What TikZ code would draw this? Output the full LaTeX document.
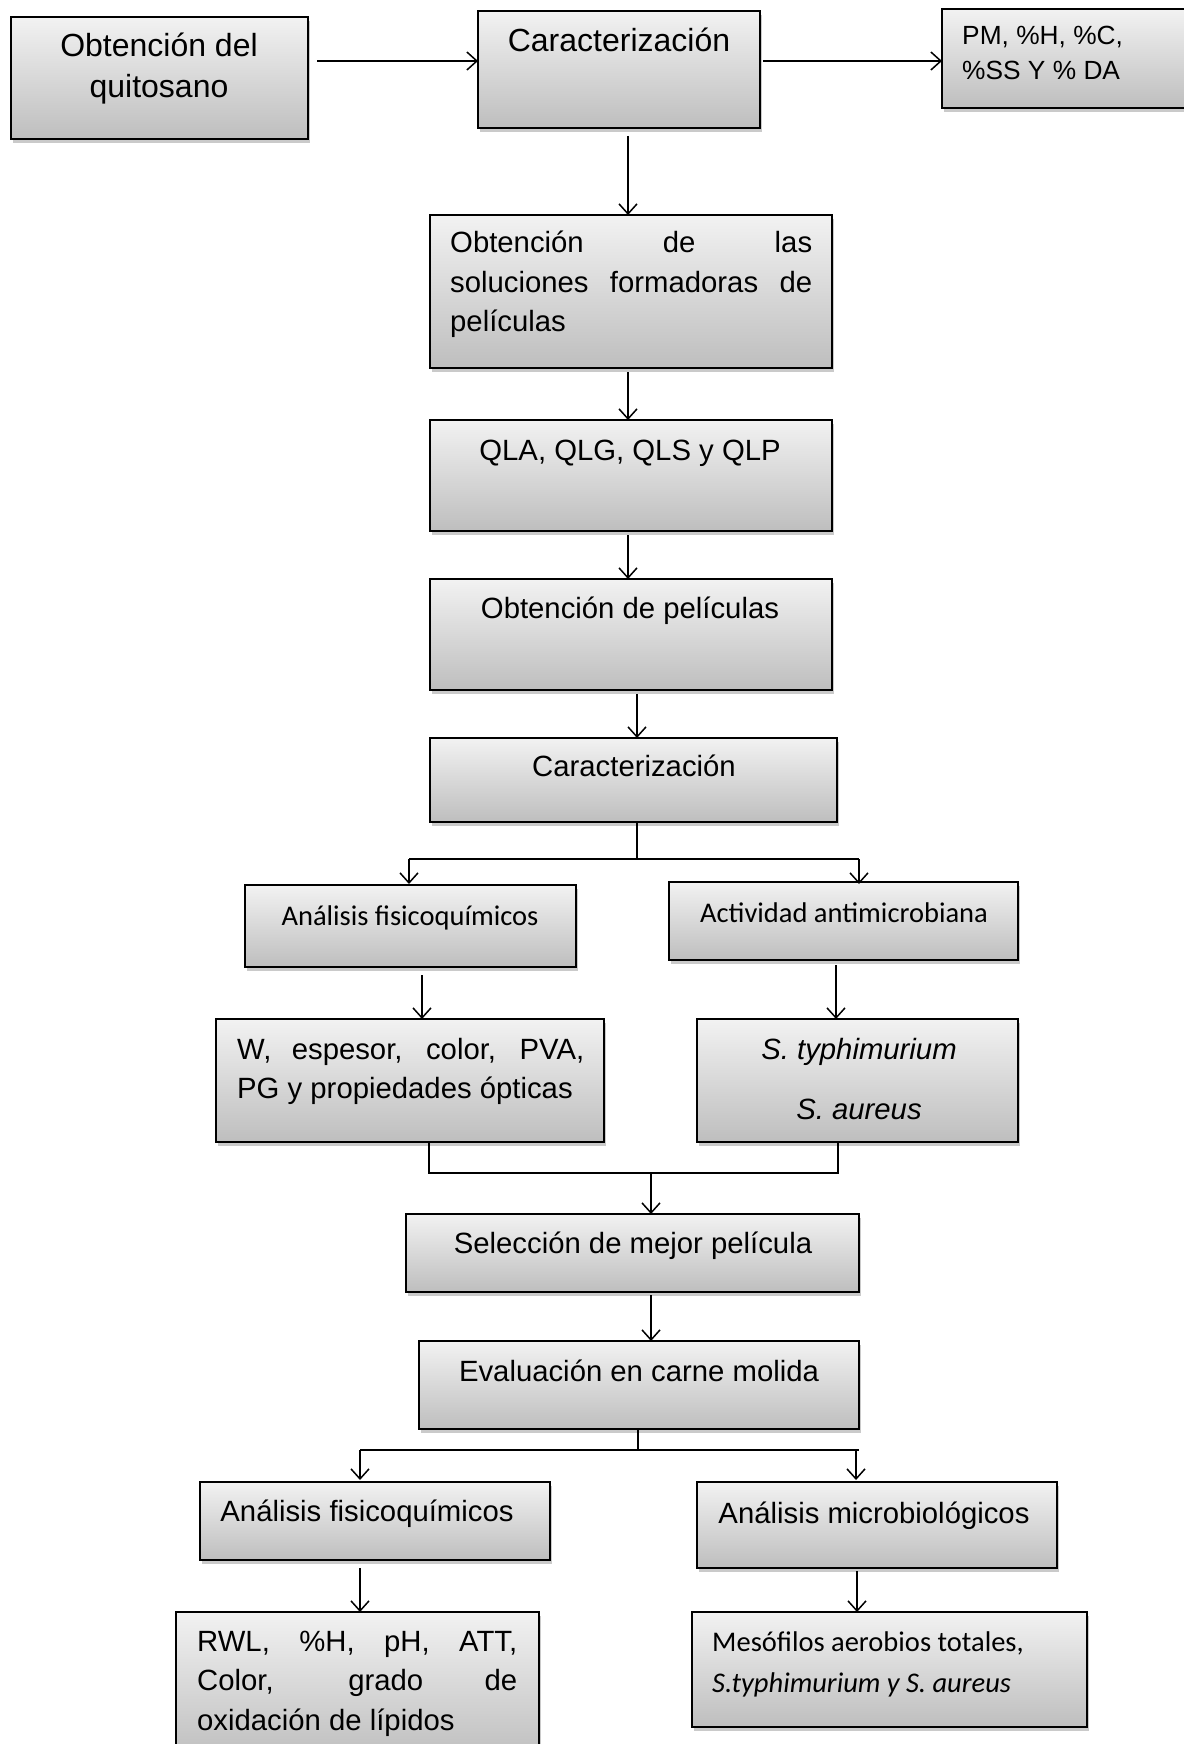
\documentclass[tikz,border=0pt]{standalone}
\usepackage{fontspec}
\setmainfont{Liberation Sans}
\newfontfamily\calibri{Carlito}
\usetikzlibrary{arrows.meta,shadows}
\definecolor{topgray}{HTML}{F2F2F2}
\definecolor{botgray}{HTML}{BEBEBE}
\tikzset{
  box/.style={draw=black, line width=2pt, top color=topgray, bottom color=botgray,
    anchor=north west, inner sep=0pt, outer sep=0pt,
    drop shadow={shadow xshift=2pt, shadow yshift=-4pt, opacity=0.35, fill=black!60}},
  txt/.style={inner sep=0pt, anchor=base},
  ftop/.style={font=\fontsize{32}{41}\selectfont},
  fmid/.style={font=\fontsize{29.3}{39}\selectfont},
  fsmall/.style={font=\fontsize{26.3}{34.5}\selectfont},
  fcal/.style={font=\calibri\fontsize{28.5}{41}\selectfont},
  conn/.style={line width=1.5pt},
  arr/.style={conn, -{Straight Barb[length=10pt,width=18pt,line width=1.5pt]}},
}
\newcommand{\bx}[6]{\node[box, minimum width=#4-#2, minimum height=#5-#3] (#1) at (#2,#3) {};}
\begin{document}
\begin{tikzpicture}[x=1pt,y=-1pt]
\useasboundingbox (0,0) rectangle (1183,1744);
% boxes
\bx{b1}{11}{17}{308}{139}{}
\bx{b2}{478}{11}{760}{128}{}
\bx{b3}{942}{9}{1195}{108}{}
\bx{b4}{430}{215}{832}{368}{}
\bx{b5}{430}{420}{832}{531}{}
\bx{b6}{430}{579}{832}{690}{}
\bx{b7}{430}{738}{837}{822}{}
\bx{b8}{245}{885}{576}{967}{}
\bx{b9}{669}{882}{1018}{960}{}
\bx{b10}{216}{1019}{604}{1142}{}
\bx{b11}{697}{1019}{1018}{1142}{}
\bx{b12}{406}{1214}{859}{1292}{}
\bx{b13}{419}{1341}{859}{1429}{}
\bx{b14}{200}{1482}{550}{1560}{}
\bx{b15}{697}{1482}{1057}{1568}{}
\bx{b16}{176}{1612}{539}{1760}{}
\bx{b17}{692}{1612}{1087}{1727}{}
% texts
\node[txt, ftop] (t1a) at (159,57) {Obtención del};
\node[txt, ftop] (t1b) at (159,98) {quitosano};
\node[txt, ftop] (t2) at (619,52) {Caracterización};
\node[txt, fsmall, anchor=base west] (t3a) at (962,45) {PM, \%H, \%C,};
\node[txt, fsmall, anchor=base west] (t3b) at (962,79.5) {\%SS Y \% DA};
\node[txt, fmid, anchor=base west] (t4a) at (450,253) {\makebox[362pt][s]{Obtención de las}};
\node[txt, fmid, anchor=base west] (t4b) at (450,292) {\makebox[362pt][s]{soluciones formadoras de}};
\node[txt, fmid, anchor=base west] (t4c) at (450,331) {películas};
\node[txt, fmid] (t5) at (630,460) {QLA, QLG, QLS y QLP};
\node[txt, fmid] (t6) at (630,618) {Obtención de películas};
\node[txt, fmid] (t7) at (634,776) {Caracterización};
\node[txt, fcal] (t8) at (410,925) {Análisis fisicoquímicos};
\node[txt, fcal] (t9) at (844,922) {Actividad antimicrobiana};
\node[txt, fmid, anchor=base west] (t10a) at (237,1059) {\makebox[347pt][s]{W, espesor, color, PVA,}};
\node[txt, fmid, anchor=base west] (t10b) at (237,1098) {PG y propiedades ópticas};
\node[txt, fmid] (t11a) at (859,1059) {\itshape S. typhimurium};
\node[txt, fmid] (t11b) at (859,1119) {\itshape S. aureus};
\node[txt, fmid] (t12) at (633,1253) {Selección de mejor película};
\node[txt, fmid] (t13) at (639,1381) {Evaluación en carne molida};
\node[txt, fmid] (t14) at (367,1521) {Análisis fisicoquímicos};
\node[txt, fmid] (t15) at (874,1523) {Análisis microbiológicos};
\node[txt, fmid, anchor=base west] (t16a) at (197,1651) {\makebox[320pt][s]{RWL, \%H, pH, ATT,}};
\node[txt, fmid, anchor=base west] (t16b) at (197,1690) {\makebox[320pt][s]{Color, grado de}};
\node[txt, fmid, anchor=base west] (t16c) at (197,1730) {oxidación de lípidos};
\node[txt, fcal, anchor=base west] (t17a) at (712,1651) {Mesófilos aerobios totales,};
\node[txt, fcal, anchor=base west] (t17b) at (712,1692) {\itshape S.typhimurium y S. aureus};
% connectors
\draw[arr] ([xshift=9pt]b1.east |- 0,61) -- (b2.west |- 0,61);
\draw[arr] ([xshift=3pt]b2.east |- 0,61) -- (b3.west |- 0,61);
\draw[arr] (628,136) -- (b4.north -| 628,0);
\draw[arr] (628,372) -- (b5.north -| 628,0);
\draw[arr] (628,535) -- (b6.north -| 628,0);
\draw[arr] (637,694) -- (b7.north -| 637,0);
\coordinate (s1) at (637,859);
\coordinate (s1l) at (409,859);
\coordinate (s1r) at (859,859);
\draw[conn] (b7.south -| s1) -- (s1);
\draw[conn] (s1l) -- (s1r);
\draw[arr] (s1l) -- (409,884);
\draw[arr] (s1r) -- (859,884);
\draw[arr] (422,975) -- (b10.north -| 422,0);
\draw[arr] (836,965) -- (b11.north -| 836,0);
\coordinate (m1) at (429,1173);
\coordinate (m2) at (838,1173);
\coordinate (m0) at (651,1173);
\draw[conn] (b10.south -| m1) -- (m1) -- (m2) -- (b11.south -| m2);
\draw[arr] (m0) -- (b12.north -| m0);
\draw[arr] (651,1295) -- (b13.north -| 651,0);
\coordinate (s2) at (638,1450);
\coordinate (s2l) at (360,1450);
\coordinate (s2r) at (859,1450);
\draw[conn] (b13.south -| s2) -- (s2);
\draw[conn] (s2l) -- (s2r);
\draw[arr] (s2l) -- (360,1480);
\draw[arr] (856,1450) -- (856,1480);
\draw[arr] (360,1568) -- (b16.north -| 360,0);
\draw[arr] (857,1571) -- (b17.north -| 857,0);
\end{tikzpicture}
\end{document}
